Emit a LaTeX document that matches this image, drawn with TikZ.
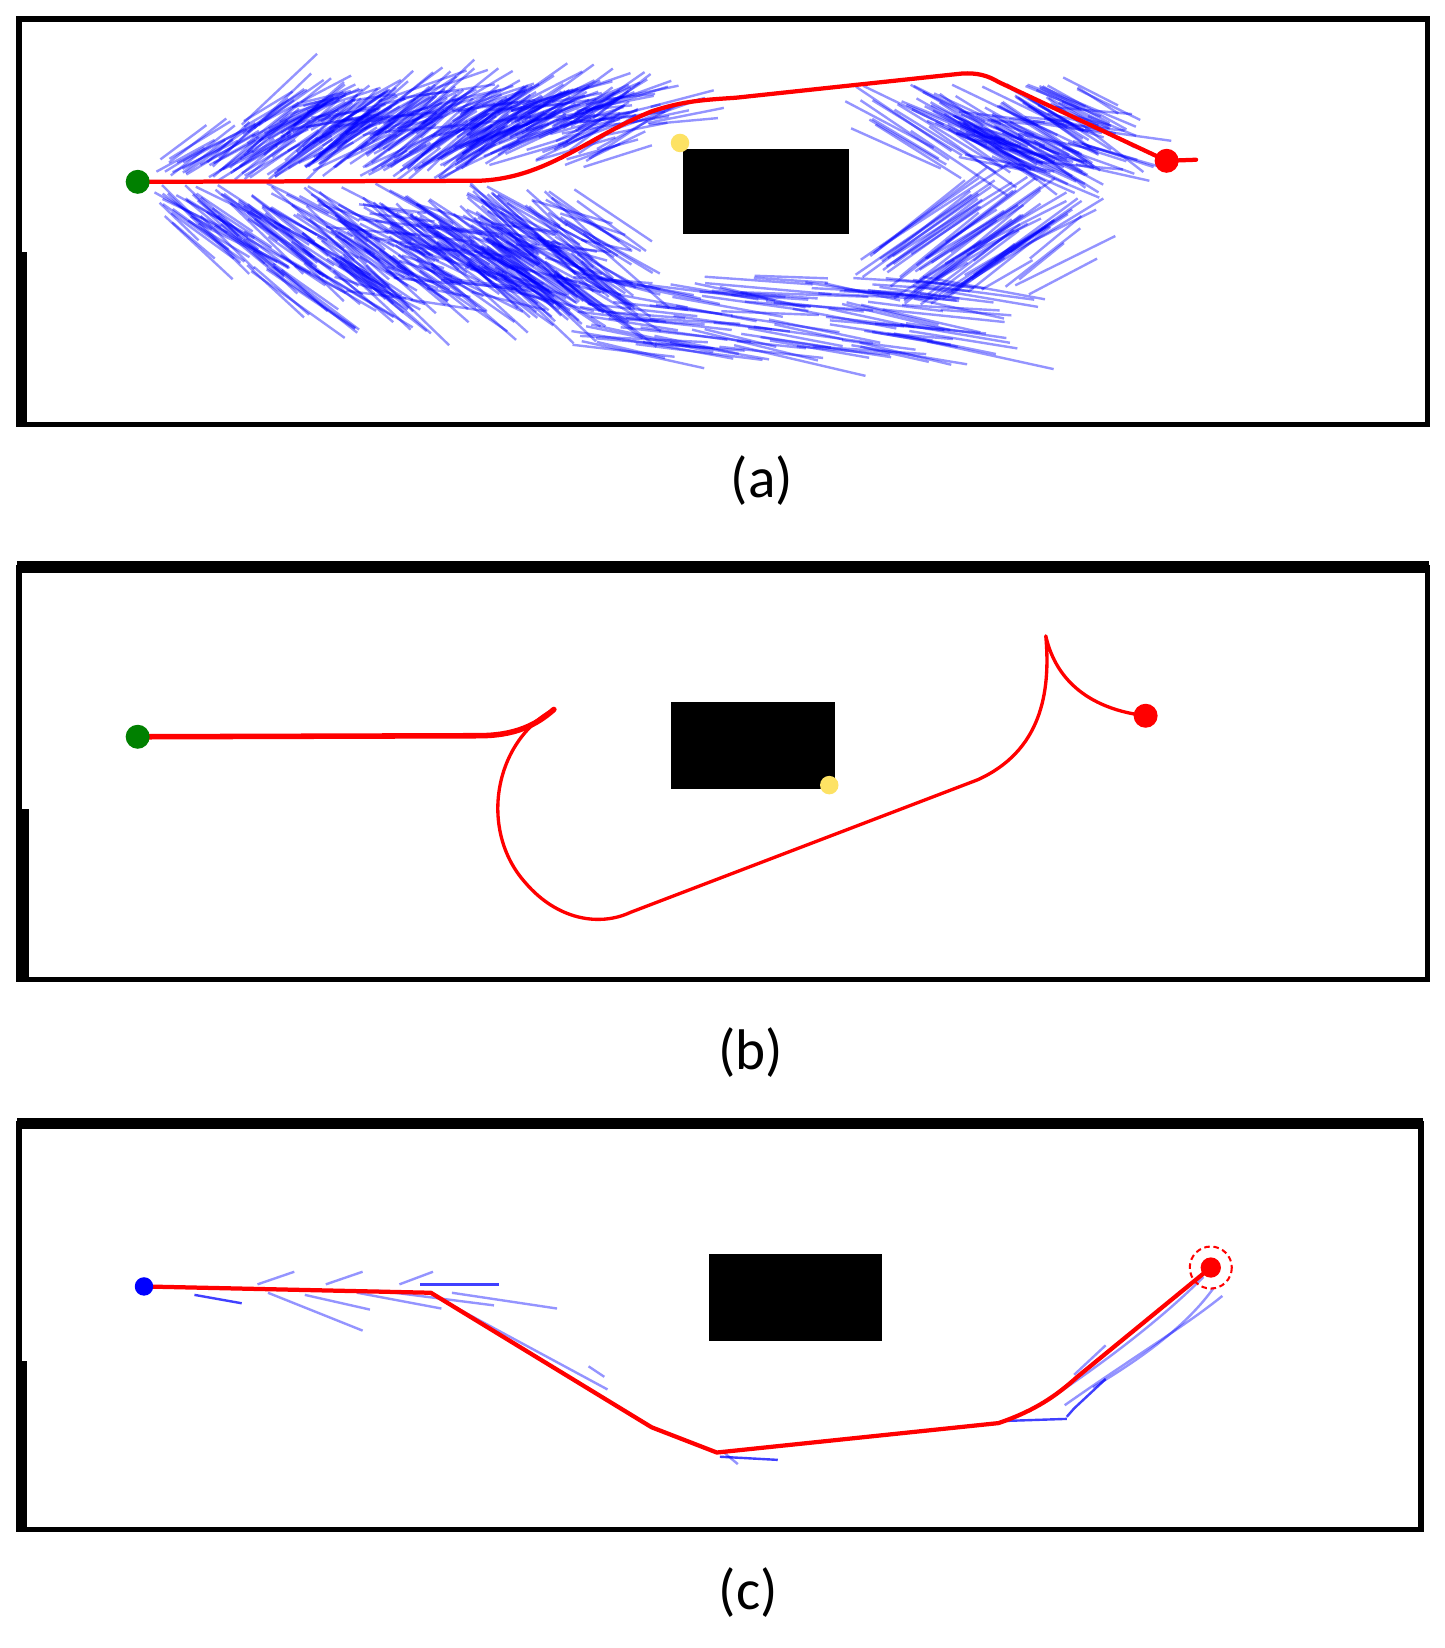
\documentclass[tikz,border=0pt]{standalone}
\usepackage{fontspec}
\setmainfont{Carlito}
\begin{document}
\begin{tikzpicture}[x=0.02cm,y=-0.02cm]
\tikzset{
  frame/.style={draw=black,line width=2.8pt},
  fan/.style={draw=blue,draw opacity=0.42,line width=1.3pt},
  fanstrong/.style={draw=blue,draw opacity=0.75,line width=1.3pt},
  redpath/.style={draw=red,line width=2.3pt,line join=round,line cap=round},
  obst/.style={fill=black},
  dot/.style={circle,inner sep=0pt,minimum size=13pt},
  smalldot/.style={circle,inner sep=0pt,minimum size=10pt},
  lab/.style={font=\fontsize{31}{37}\selectfont,inner sep=0pt}
}
\newcommand\bstrokes[9]{%
  \foreach \i in {1,...,#9}{%
    \pgfmathsetmacro\px{#1+rnd*(#2-#1)}%
    \pgfmathsetmacro\py{#3+rnd*(#4-#3)}%
    \pgfmathsetmacro\pa{#5+rnd*(#6-#5)}%
    \pgfmathsetmacro\pl{#7+rnd*(#8-#7)}%
    \draw[fan] (\px,\py) -- ++(\pa:\pl);
  }}
\useasboundingbox (0,0) rectangle (1374,1568);
\fill[white] (0,0) rectangle (1374,1568);
\pgfmathsetseed{11}

% ================= panel (a) =================
% upper-left lobe (rising strokes)
\bstrokes{145}{240}{150}{173}{-25}{-45}{40}{100}{30}
\bstrokes{230}{450}{115}{172}{-25}{-45}{50}{100}{170}
\bstrokes{430}{570}{105}{160}{-15}{-38}{50}{90}{80}
\bstrokes{260}{620}{90}{130}{-5}{-20}{40}{90}{60}
% lower-left lobe (descending strokes)
\bstrokes{145}{240}{174}{215}{25}{45}{50}{110}{40}
\bstrokes{230}{480}{174}{260}{25}{45}{50}{110}{190}
\bstrokes{450}{560}{180}{270}{28}{45}{50}{110}{70}
\bstrokes{300}{560}{190}{290}{5}{20}{40}{90}{50}
% bottom band under obstacle
\bstrokes{540}{900}{262}{330}{2}{14}{60}{130}{110}
% ascending strokes right-lower (towards the chevron tip)
\bstrokes{810}{930}{235}{290}{-30}{-40}{90}{160}{40}
\bstrokes{860}{980}{230}{285}{-25}{-40}{50}{110}{20}
% right-upper lobe (descending to the right)
\bstrokes{800}{1000}{78}{130}{22}{38}{70}{120}{70}
\bstrokes{900}{1040}{100}{160}{5}{25}{40}{90}{40}
\bstrokes{960}{1050}{70}{100}{20}{35}{40}{70}{12}

\draw[frame] (18,18) rectangle (1358,404);
\fill[black] (16,240) rectangle (26,406);
\fill[obst] (650,142) rectangle (808,223);
\node[smalldot,fill=yellow!70!orange!60] (ya) at (647,136) {};
\draw[redpath] (131,173) -- (455,172) .. controls (520,170) and (560,130) .. (620,106)
  .. controls (650,96) and (670,95) .. (700,93) -- (915,70)
  .. controls (930,69) and (940,72) .. (950,78) -- (1110,153) -- (1138,152);
\node[dot,fill=green!50!black] (sa) at (131,173) {};
\node[dot,fill=red] (ga) at (1110,153) {};
\node[lab] (la) at (725,457) {(a)};

% ================= panel (b) =================
\draw[frame] (18,540) rectangle (1358,932);
\fill[black] (16,534) rectangle (1360,545);
\fill[black] (16,770) rectangle (28,934);
\fill[obst] (638,668) rectangle (794,751);
\draw[redpath,line width=3pt] (131,701) -- (455,700) .. controls (490,700) and (510,690) .. (527,675);
\draw[redpath,line width=1.8pt] (527,675) .. controls (470,705) and (455,790) .. (500,840)
  .. controls (530,875) and (570,882) .. (600,868) -- (930,742)
  .. controls (990,715) and (1000,660) .. (995,605)
  .. controls (1005,650) and (1040,675) .. (1090,681);
\node[smalldot,fill=yellow!70!orange!60] (yb) at (789,747) {};
\node[dot,fill=green!50!black] (sb) at (131,701) {};
\node[dot,fill=red] (gb) at (1090,681) {};
\node[lab] (lb) at (714,1001) {(b)};

% ================= panel (c) =================
\draw[frame] (18,1069) rectangle (1352,1455);
\fill[black] (16,1064) rectangle (1354,1074);
\fill[black] (16,1295) rectangle (26,1457);
\fill[obst] (675,1193) rectangle (839,1276);
% blue strokes
\draw[fan] (245,1222) -- (280,1210);
\draw[fan] (310,1222) -- (345,1210);
\draw[fan] (380,1222) -- (412,1210);
\draw[fanstrong] (185,1232) -- (230,1240);
\draw[fan] (255,1230) -- (345,1266);
\draw[fan] (290,1232) -- (352,1246);
\draw[fan] (340,1230) -- (420,1245);
\draw[fan] (360,1228) -- (470,1242);
\draw[fanstrong] (400,1222) -- (475,1222);
\draw[fan] (430,1230) -- (530,1245);
\draw[fan] (415,1234) -- (578,1322);
\draw[fan] (560,1300) -- (575,1310);
\draw[fanstrong] (685,1386) -- (740,1389);
\draw[fan] (690,1383) -- (702,1393);
\draw[fanstrong] (955,1352) -- (1015,1350);
\draw[fanstrong] (1015,1348) -- (1022,1340) -- (1052,1312);
\draw[fan] (1013,1337) .. controls (1080,1290) and (1130,1260) .. (1163,1233);
\draw[fan] (1000,1330) .. controls (1060,1290) and (1110,1250) .. (1145,1215);
\draw[fan] (1052,1280) -- (1022,1308);
\draw[fan] (1040,1320) .. controls (1090,1290) and (1130,1260) .. (1155,1225);
\draw[redpath] (137,1224) -- (410,1230) -- (620,1358) -- (682,1382) -- (950,1354)
  .. controls (985,1342) and (1005,1328) .. (1025,1310) -- (1152,1206);
\node[dot,fill=blue,minimum size=10pt] (sc) at (137,1224) {};
\node[dot,fill=red,minimum size=11pt] (gc) at (1152,1206) {};
\draw[red,dashed,line width=1.1pt,dash pattern=on 3pt off 2pt] (gc.center) circle (20);
\node[lab] (lc) at (712,1515) {(c)};
\end{tikzpicture}
\end{document}
